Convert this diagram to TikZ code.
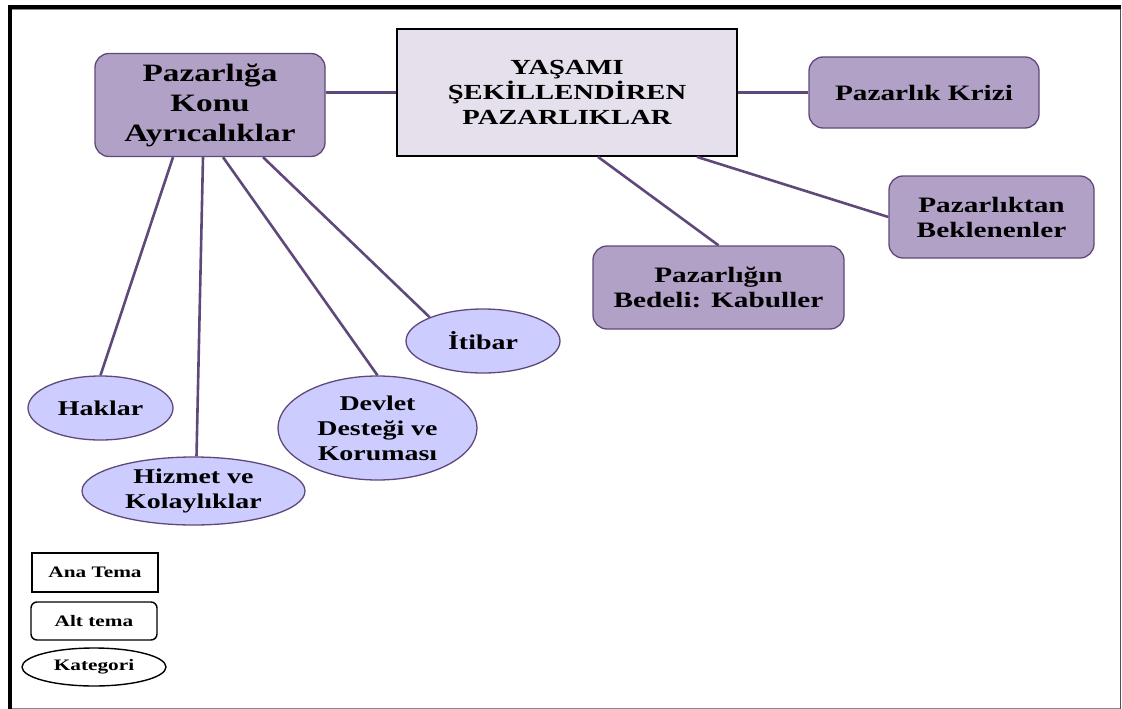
\documentclass[tikz,border=0pt]{standalone}
\usepackage{fontspec}
\setmainfont{Liberation Serif}[FakeStretch=1.33]
\usetikzlibrary{shapes.geometric}
\definecolor{linkc}{HTML}{5F497A}
\definecolor{subfill}{HTML}{B2A1C7}
\definecolor{mainfill}{HTML}{E5E0EC}
\definecolor{catfill}{HTML}{CCCCFF}
\definecolor{edgegray}{HTML}{8A8A8A}
\definecolor{darkgray}{HTML}{505050}
\begin{document}
\begin{tikzpicture}[x=1pt,y=-1pt,
  mainbox/.style={draw=black, line width=1.8pt, fill=mainfill, minimum width=340pt,
    minimum height=127pt, align=center, inner sep=0pt,
    font=\bfseries\fontsize{21.5}{25}\selectfont},
  subbox/.style={draw=linkc, line width=1.3pt, fill=subfill, rounded corners=14pt,
    align=center, inner sep=0pt, font=\bfseries\fontsize{22}{25}\selectfont},
  catnode/.style={ellipse, draw=linkc, line width=1.3pt, fill=catfill, align=center,
    inner sep=0pt, font=\bfseries\fontsize{21}{25}\selectfont},
  keybox/.style={draw=black, line width=1.4pt, fill=white, align=center, inner sep=0pt,
    font=\bfseries\fontsize{16}{18}\selectfont},
  link/.style={draw=linkc, line width=2.6pt}
]
\useasboundingbox (0,0) rectangle (1122,709);

% page frame
\draw[edgegray, line width=1pt] (10,9.5) -- (1120.5,9.5);
\draw[edgegray, line width=1pt] (10,708) -- (1120.5,708);
\draw[darkgray, line width=1.6pt] (1120.5,8) -- (1120.5,708.5);
\draw[black, line width=3.5pt] (8,7) -- (1121.3,7);
\draw[black, line width=4pt] (10,5) -- (10,709);

% main theme
\node[mainbox] (main) at (567,92.5) {YAŞAMI\\ŞEKİLLENDİREN\\PAZARLIKLAR};

% sub themes
\node[subbox, minimum width=230pt, minimum height=103pt,
  font=\bfseries\fontsize{25}{30}\selectfont] (pz) at (210,105)
  {Pazarlığa\\Konu\\Ayrıcalıklar};
\node[subbox, minimum width=230pt, minimum height=71pt] (kr) at (924,92.5) {Pazarlık Krizi};
\node[subbox, minimum width=205pt, minimum height=82pt] (bek) at (991.5,217)
  {Pazarlıktan\\Beklenenler};
\node[subbox, minimum width=251pt, minimum height=83pt] (bed) at (718.5,287.5)
  {Pazarlığın\\Bedeli: Kabuller};

% categories
\node[catnode, minimum width=145pt, minimum height=64pt] (hak) at (100.5,408) {Haklar};
\node[catnode, minimum width=223pt, minimum height=68pt] (hiz) at (193.5,491)
  {Hizmet ve\\Kolaylıklar};
\node[catnode, minimum width=199pt, minimum height=104pt] (dev) at (377.5,428)
  {Devlet\\Desteği ve\\Koruması};
\node[catnode, minimum width=154pt, minimum height=64pt] (itb) at (483,341) {İtibar};

% connectors
\draw[link] (main.west) -- (main.west -| pz.east);
\draw[link] (main.east) -- (kr.west);
\draw[link] ([xshift=31pt]main.south) -- (bed.north);
\draw[link] ([xshift=130pt]main.south) -- (bek.west);
\draw[link] ([xshift=-37pt]pz.south) -- (hak.north);
\draw[link] ([xshift=-7pt]pz.south) -- ([xshift=3pt]hiz.north);
\draw[link] ([xshift=13pt]pz.south) -- (dev.north);
\draw[link] ([xshift=53pt]pz.south) -- (itb.156);

% key
\node[keybox, minimum width=126pt, minimum height=39pt] (kmain) at (95,572.5) {Ana Tema};
\node[keybox, rounded corners=6pt, minimum width=126pt, minimum height=38pt] (ksub) at (94,621) {Alt tema};
\node[keybox, ellipse, minimum width=144pt, minimum height=38pt] (kcat) at (94,667) {Kategori};
\end{tikzpicture}
\end{document}
